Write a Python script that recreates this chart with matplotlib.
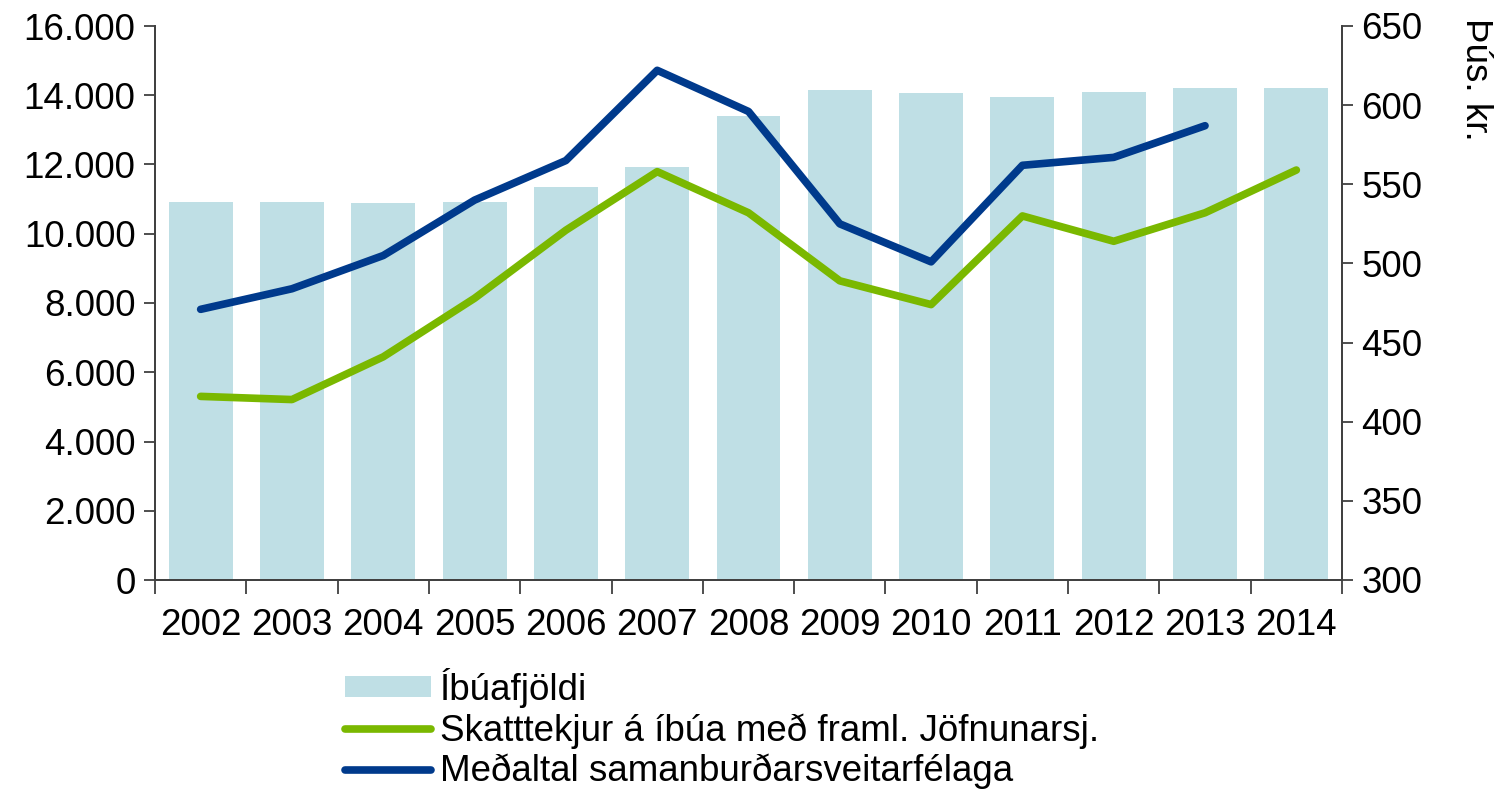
import matplotlib.pyplot as plt
from matplotlib.ticker import FuncFormatter, FixedLocator

plt.rcParams['font.family'] = ['Liberation Sans', 'DejaVu Sans']

years = ['2002', '2003', '2004', '2005', '2006', '2007', '2008',
         '2009', '2010', '2011', '2012', '2013', '2014']
# Íbúafjöldi (left axis)
ibuafjoldi = [10910, 10910, 10880, 10910, 11350, 11930, 13400,
              14150, 14070, 13950, 14100, 14210, 14210]
# Skatttekjur á íbúa (right axis, þús. kr.)
skatttekjur = [416, 414, 441, 478, 521, 558, 532, 489, 474, 530, 514, 532, 559]
# Meðaltal samanburðarsveitarfélaga (right axis, þús. kr.), no 2014 value
medaltal = [471, 484, 505, 540, 565, 622, 596, 525, 501, 562, 567, 587]

bar_color = '#BFDFE5'
green = '#7AB800'
blue = '#003A8C'
fs = 26.5

fig = plt.figure(figsize=(15.07, 7.91), dpi=100)
ax = fig.add_axes([155 / 1507, 1 - 580 / 791, (1342 - 155) / 1507, (580 - 26) / 791])
x = list(range(len(years)))

bars = ax.bar(x, ibuafjoldi, width=0.7, color=bar_color, label='Íbúafjöldi', zorder=1)
ax.set_xlim(-0.5, len(years) - 0.5)
ax.set_ylim(0, 16000)
ax.set_yticks(range(0, 16001, 2000))
ax.yaxis.set_major_formatter(FuncFormatter(lambda v, p: f'{int(v):,}'.replace(',', '.')))

ax.set_xticks(x)
ax.set_xticklabels(years)
ax.xaxis.set_minor_locator(FixedLocator([i - 0.5 for i in range(len(years) + 1)]))
ax.tick_params(axis='x', which='major', length=0, pad=20, labelsize=fs)
ax.tick_params(axis='x', which='minor', length=10, width=1.3, color='#404040')
ax.tick_params(axis='y', length=8, width=1.3, color='#404040', labelsize=fs, pad=6)

ax2 = ax.twinx()
ax2.set_ylim(300, 650)
ax2.set_yticks(range(300, 651, 50))
ax2.tick_params(axis='y', length=8, width=1.3, color='#404040', labelsize=fs, pad=6)
l1, = ax2.plot(x, skatttekjur, color=green, lw=5.5, solid_capstyle='round',
               label='Skatttekjur á íbúa með framl. Jöfnunarsj.')
l2, = ax2.plot(x[:len(medaltal)], medaltal, color=blue, lw=5.5, solid_capstyle='round',
               label='Meðaltal samanburðarsveitarfélaga')

for a in (ax, ax2):
    a.spines['top'].set_visible(False)
    for s in ('left', 'right', 'bottom'):
        a.spines[s].set_color('#404040')
        a.spines[s].set_linewidth(1.3)

fig.text(1476 / 1507, 1 - 18 / 791, 'Þús. kr.', rotation=270, ha='center', va='top', fontsize=fs)

fig.legend([bars, l1, l2], [bars.get_label(), l1.get_label(), l2.get_label()],
           loc='upper left', bbox_to_anchor=(345 / 1507, 1 - 668 / 791),
           frameon=False, fontsize=fs, handlelength=2.35, handletextpad=0.22,
           labelspacing=0.14, borderpad=0, borderaxespad=0, handleheight=0.5)

fig.savefig('out.png', dpi=100)
